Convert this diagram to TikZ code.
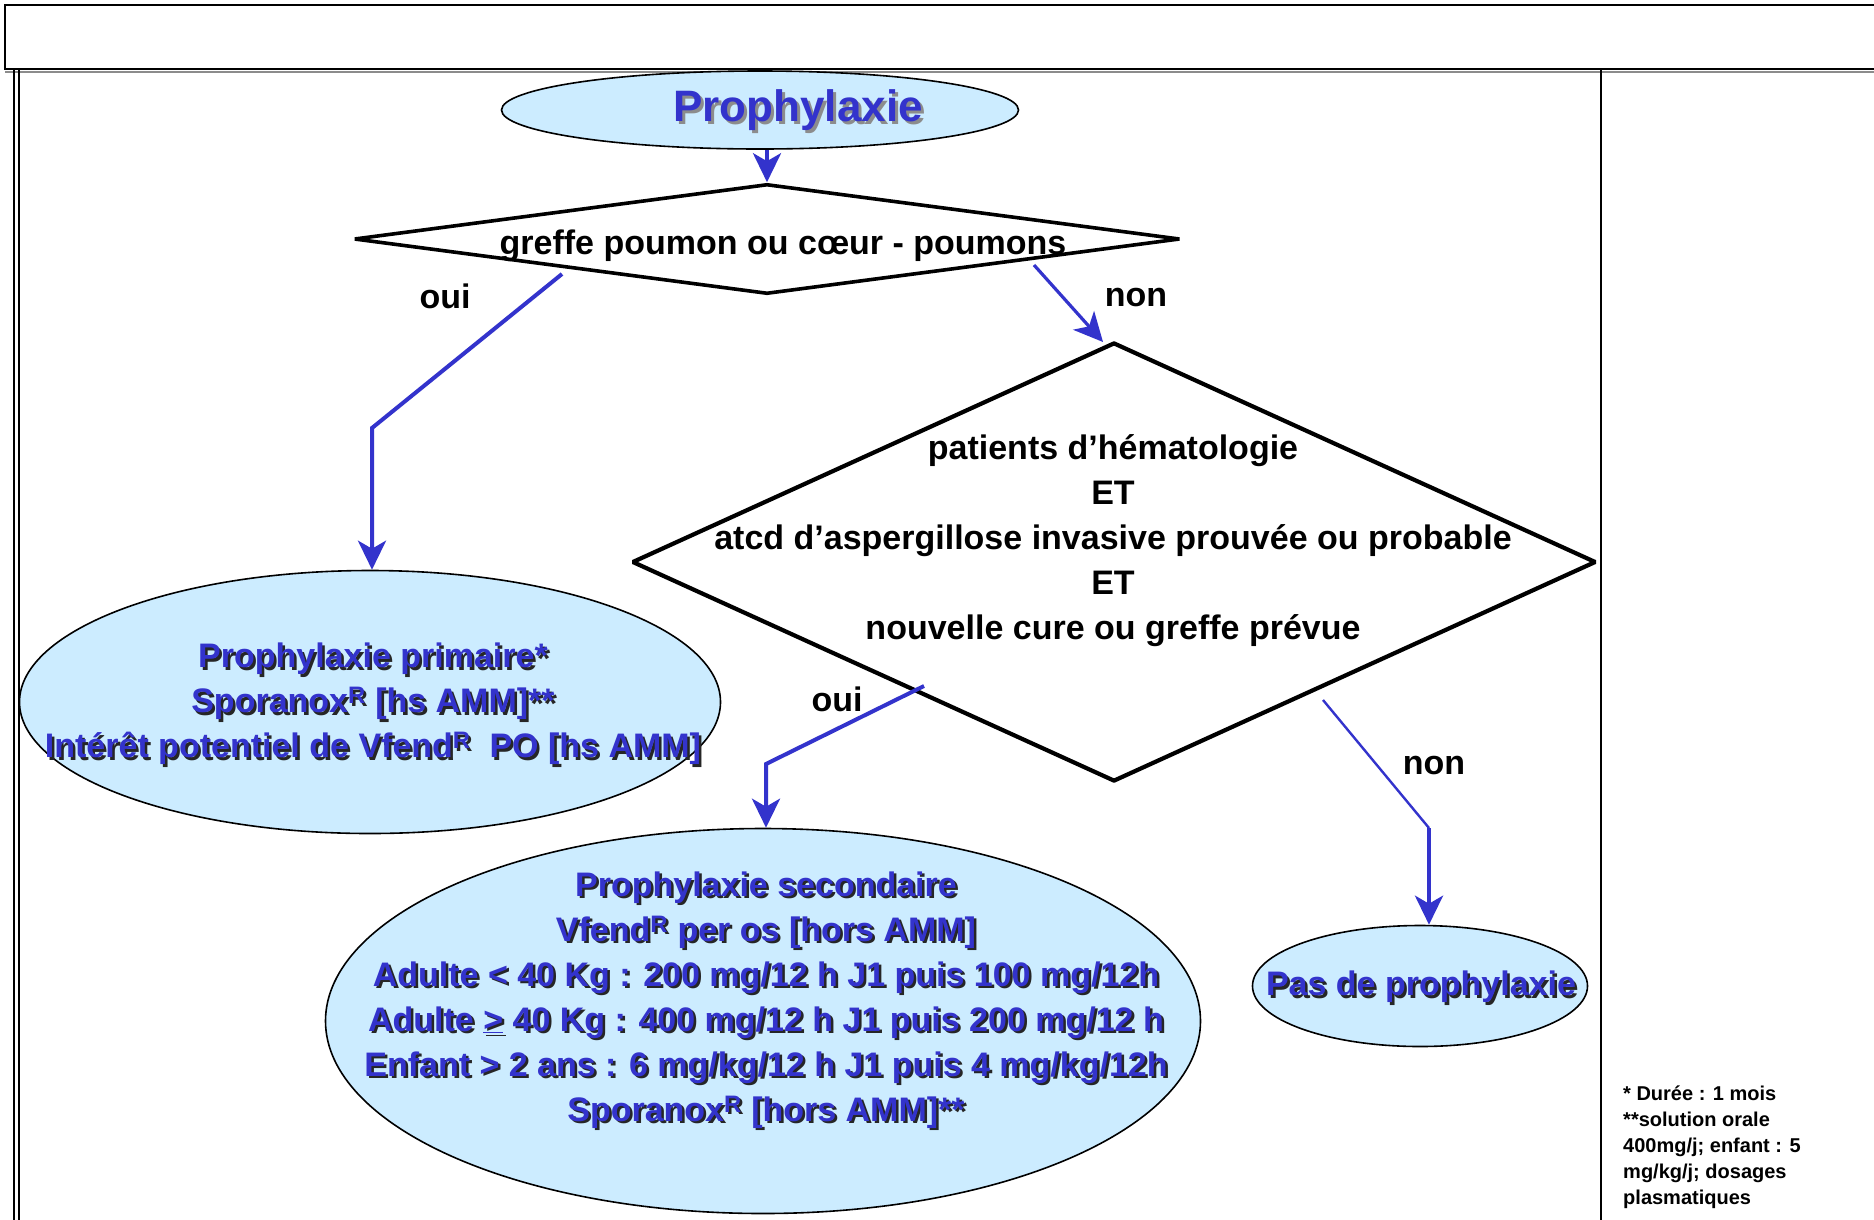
\documentclass[tikz,border=0pt]{standalone}
\usepackage{fontspec}
\setmainfont{Liberation Sans}
\usetikzlibrary{shapes.geometric,arrows.meta}
\definecolor{bluec}{HTML}{3333CC}
\definecolor{fillc}{HTML}{CCECFF}
\newcommand\shd[1]{\rlap{\hspace{2.5pt}\raisebox{-2.5pt}{\textcolor{black!85}{#1}}}#1}
\newcommand\shg[1]{\rlap{\hspace{3pt}\raisebox{-3pt}{\textcolor{black!45}{#1}}}#1}
\begin{document}
\begin{tikzpicture}[x=1pt,y=-1pt,
  ell/.style={ellipse, draw=black, line width=1.6pt, fill=fillc, inner sep=0pt},
  dia/.style={diamond, draw=black, line width=4.2pt, line join=bevel, inner sep=0pt},
  btxt/.style={font=\fontsize{34}{45}\selectfont\bfseries, align=center, inner sep=0pt, text=bluec},
  ktxt/.style={font=\fontsize{34}{45}\selectfont\bfseries, align=center, inner sep=0pt, text=black},
  conn/.style={draw=bluec, line width=4pt},
  arr/.style={conn, -{Stealth[length=29pt,width=28pt,inset=8pt]}}]
\useasboundingbox (0,0) rectangle (1874,1219);
\fill[white] (0,0) rectangle (1874,1219);
% frame
\draw[black!45, line width=2pt] (5,72) -- (1880,72);
\draw[line width=2.2pt] (1880,5) -- (5,5) -- (5,69) -- (1880,69);
\draw[line width=1.6pt] (14,69) -- (14,1225);
\draw[line width=1.6pt] (19,69) -- (19,1225);
\draw[line width=2.6pt] (1601,69) -- (1601,1225);
% shapes
\node[ell, minimum width=517pt, minimum height=78pt] (pro) at (760,110) {};
\node[font=\fontsize{44}{50}\selectfont\bfseries, text=bluec, inner sep=0pt] (proT) at (798,112) {\shg{Prophylaxie}};
\node[dia, line width=3.6pt, minimum width=826pt, minimum height=110pt] (d1) at (767,239) {};
\node[ktxt] (d1T) at (783,246) {greffe poumon ou cœur - poumons};
\node[dia, minimum width=964pt, minimum height=439pt] (d2) at (1114,562) {};
\node[ktxt] (d2T) at (1113,541) {patients d’hématologie\\ET\\atcd d’aspergillose invasive prouvée ou probable\\ET\\nouvelle cure ou greffe prévue};
\node[ell, minimum width=701pt, minimum height=263pt] (prim) at (370,702) {};
\node[btxt] (primT) at (373,705) {\shd{Prophylaxie primaire*}\\\shd{Sporanox\textsuperscript{R} [hs AMM]**}\\\shd{Intérêt potentiel de Vfend\textsuperscript{R}~ PO [hs AMM]}};
\node[ell, minimum width=875pt, minimum height=385pt] (sec) at (763,1021) {};
\node[btxt] (secT) at (766,1001) {\shd{Prophylaxie secondaire}\\\shd{Vfend\textsuperscript{R} per os [hors AMM]}\\\shd{Adulte < 40 Kg : 200 mg/12 h J1 puis 100 mg/12h}\\\shd{Adulte \underline{>} 40 Kg : 400 mg/12 h J1 puis 200 mg/12 h}\\\shd{Enfant > 2 ans : 6 mg/kg/12 h J1 puis 4 mg/kg/12h}\\\shd{Sporanox\textsuperscript{R} [hors AMM]**}};
\node[ell, minimum width=335pt, minimum height=121pt] (pas) at (1420,986) {};
\node[btxt] (pasT) at (1421,988) {\shd{Pas de prophylaxie}};
% labels
\node[ktxt] (l1) at (445,296) {oui};
\node[ktxt] (l2) at (1136,298) {non};
\node[ktxt] (l3) at (837,699) {oui};
\node[ktxt] (l4) at (1434,765) {non};
% footnote
\node[font=\fontsize{20}{26}\selectfont\bfseries, align=left, inner sep=0pt, anchor=north west] (foot) at (1623,1086) {* Durée : 1 mois\\**solution orale\\400mg/j; enfant : 5\\mg/kg/j; dosages\\plasmatiques};
% connectors
\draw[arr] (pro.south -| d1.north) -- (d1.north);
\coordinate (o1s) at (562,274);
\coordinate (o1b) at (372,428);
\draw[arr] (o1s) -- (o1b) -- (o1b |- prim.north);
\coordinate (n1s) at (1034,265);
\coordinate (n1e) at (1103,342);
\draw[arr, line width=3.2pt] (n1s) -- (n1e);
\coordinate (o2s) at (924,686);
\coordinate (o2b) at (766,764);
\draw[arr] (o2s) -- (o2b) -- (o2b |- sec.north);
\coordinate (n2s) at (1323,700);
\coordinate (n2b) at (1429,828);
\draw[conn, line width=2.4pt] (n2s) -- (n2b);
\draw[arr] (n2b) -- (n2b |- pas.north);
\end{tikzpicture}
\end{document}
